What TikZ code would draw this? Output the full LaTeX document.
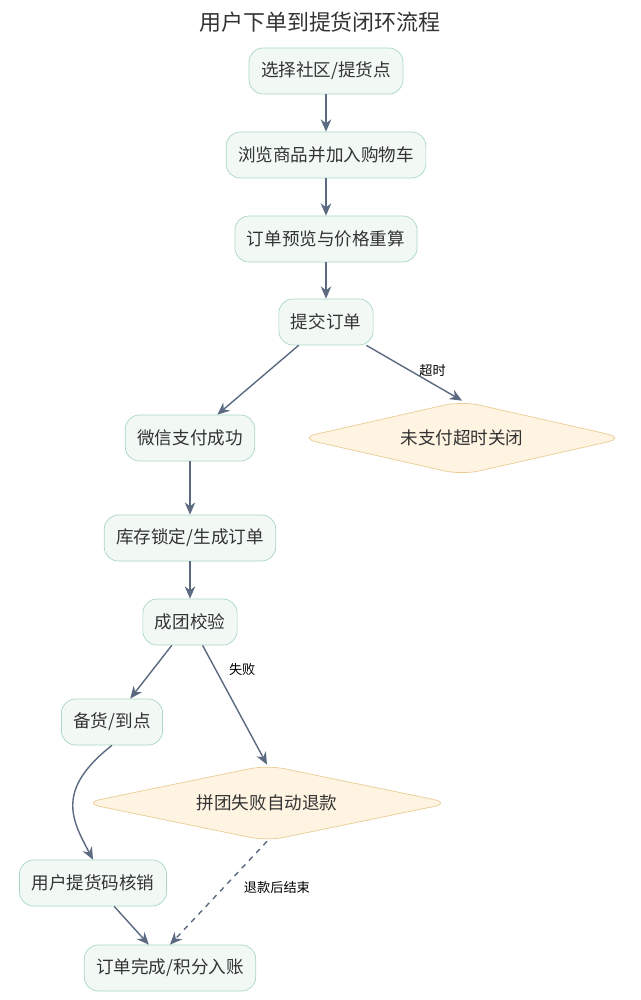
\documentclass[tikz,border=0pt]{standalone}
\usepackage{fontspec}
\setmainfont{Noto Sans CJK SC}
\usetikzlibrary{shapes.geometric,arrows.meta,positioning}
\definecolor{stepfill}{HTML}{F2F9F5}
\definecolor{stepline}{HTML}{A9D6C2}
\definecolor{endfill}{HTML}{FFF3E2}
\definecolor{endline}{HTML}{EBCB94}
\definecolor{flow}{HTML}{5B6A80}
\definecolor{ink}{HTML}{333333}

\begin{document}
\begin{tikzpicture}[x=0.02cm, y=-0.02cm, align=center, text=ink]
    \tikzset{
        box/.style      =   { rectangle
                            , rounded corners=8pt
                            , fill=stepfill
                            , draw=stepline
                            , font=\fontsize{10}{12}\selectfont
                            , minimum height=0.92cm
                            , inner xsep=0.24cm
        }
        , stop/.style   =   { diamond
                            , aspect=6
                            , rounded corners=10pt
                            , fill=endfill
                            , draw=endline
                            , font=\fontsize{10}{12}\selectfont
                            , inner sep=0pt
        }
        , arrow/.style  =   { draw=flow
                            , thick
                            , -{Stealth[length=7pt,width=6pt]}
        }
        , tag/.style    =   { font=\fontsize{7.5}{9}\selectfont
                            , text=black
        }
    }
    \useasboundingbox (0,0) rectangle (641,1000);
    \node(title) at (320,22) {\fontsize{12.5}{15}\selectfont 用户下单到提货闭环流程};

    \node(pick)[box] at (326,71)    {选择社区/提货点};
    \node(cart)[box] at (326,155)   {浏览商品并加入购物车};
    \node(preview)[box] at (326,239) {订单预览与价格重算};
    \node(submit)[box] at (326,322) {提交订单};
    \node(paid)[box] at (190,438)   {微信支付成功};
    \node(timeout)[stop, minimum width=6.52cm, minimum height=1.48cm] at (462,438) {未支付超时关闭};
    \node(lock)[box] at (190,538)   {库存锁定/生成订单};
    \node(group)[box] at (190,622)  {成团校验};
    \node(stock)[box] at (112,722)  {备货/到点};
    \node(refund)[stop, minimum width=7.36cm, minimum height=1.52cm] at (267,803) {拼团失败自动退款};
    \node(verify)[box] at (93,883)  {用户提货码核销};
    \node(done)[box] at (170,968)   {订单完成/积分入账};

    \draw[arrow] (pick) -- (cart);
    \draw[arrow] (cart) -- (preview);
    \draw[arrow] (preview) -- (submit);
    \draw[arrow] (submit) -- (paid);
    \draw[arrow] (submit) -- node[tag, pos=0.45, right=2pt] {超时} (timeout.north);
    \draw[arrow] (paid) -- (lock);
    \draw[arrow] (lock) -- (group);
    \draw[arrow] (group) -- (stock);
    \draw[arrow] (group) -- node[tag, pos=0.2, right=4pt] {失败} (refund.north);
    \draw[arrow] (stock.south) .. controls (55,790) and (72,820) .. (verify.north);
    \draw[arrow] (verify) -- (done);
    \draw[arrow, dashed] (refund.south) -- node[tag, pos=0.45, right=8pt] {退款后结束} (done.north);
\end{tikzpicture}
\end{document}
